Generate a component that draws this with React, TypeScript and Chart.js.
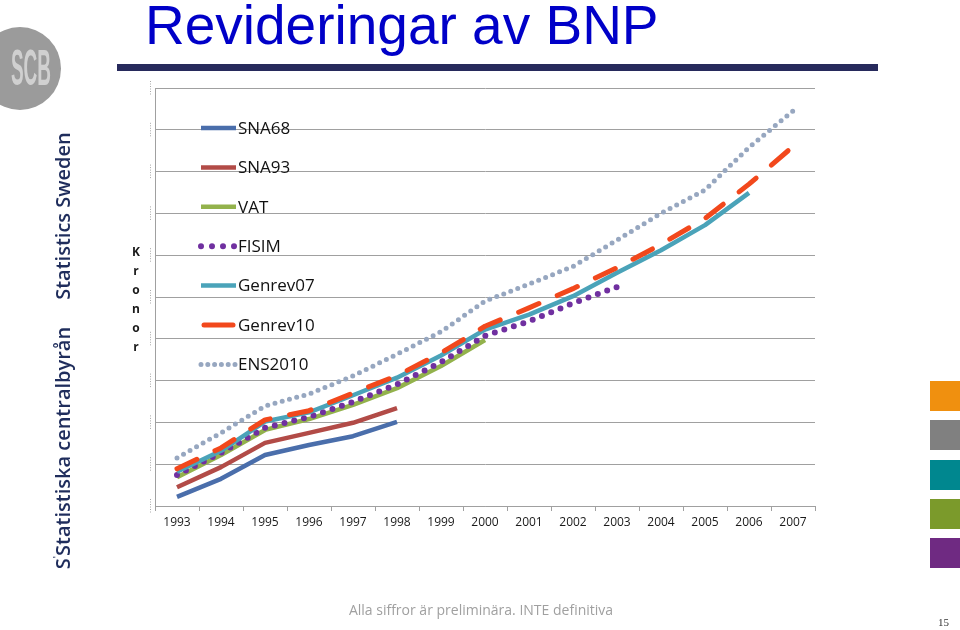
import React, { useEffect, useRef } from 'react';
import { Chart, registerables } from 'chart.js';

Chart.register(...registerables);

const years = ['1993', '1994', '1995', '1996', '1997', '1998', '1999', '2000', '2001', '2002', '2003', '2004', '2005', '2006', '2007'];
const sna68 = [0.22, 0.65, 1.22, 1.46, 1.67, 2.01, null, null, null, null, null, null, null, null, null];
const sna93 = [0.45, 0.93, 1.51, 1.75, 1.99, 2.34, null, null, null, null, null, null, null, null, null];
const vat = [0.69, 1.22, 1.82, 2.08, 2.42, 2.82, 3.35, 3.97, null, null, null, null, null, null, null];
const fisim = [0.74, 1.27, 1.87, 2.13, 2.49, 2.91, 3.44, 4.07, 4.42, 4.85, 5.24, null, null, null, null];
const genrev07 = [0.82, 1.32, 2.02, 2.24, 2.65, 3.07, 3.6, 4.22, 4.58, 5.02, 5.58, 6.12, 6.72, 7.49, null];
const genrev10 = [0.89, 1.39, 2.06, 2.28, 2.7, 3.12, 3.66, 4.3, 4.74, 5.2, 5.7, 6.26, 6.88, 7.7, 8.6];
const ens2010 = [1.15, 1.75, 2.39, 2.68, 3.11, 3.63, 4.17, 4.9, 5.31, 5.73, 6.36, 7.0, 7.56, 8.58, 9.45];
const seriesNames = ['SNA68', 'SNA93', 'VAT', 'FISIM', 'Genrev07', 'Genrev10', 'ENS2010'];
const yMin = 0;
const yMax = 10;
const yStep = 1;
const yTitleLetters = ['K', 'r', 'o', 'n', 'o', 'r'];
const sideSquares = ['#f0900f', '#808080', '#00878f', '#7b9a2b', '#6f2a82'];

const decorPlugin = {
  id: 'decor',
  afterDraw(chart: any) {
    const ctx = chart.ctx;
    const ys = chart.scales.y;
    const area = chart.chartArea;
    ctx.save();
    ctx.strokeStyle = '#a8a8a8';
    ctx.lineWidth = 1;
    ctx.setLineDash([1, 1.5]);
    ys.ticks.forEach((_t: any, i: number) => {
      const py = ys.getPixelForTick(i);
      ctx.beginPath();
      ctx.moveTo(area.left - 4.5, py - 7);
      ctx.lineTo(area.left - 4.5, py + 7);
      ctx.stroke();
    });
    ctx.restore();

    const lx0 = area.left + 46;
    const lx1 = area.left + 81;
    const ly0 = area.top + 40;
    const step = 39.4;
    chart.data.datasets.forEach((d: any, i: number) => {
      const y = ly0 + i * step;
      ctx.save();
      ctx.strokeStyle = d.borderColor;
      ctx.lineWidth = d.borderWidth;
      ctx.lineCap = d.borderCapStyle || 'butt';
      ctx.setLineDash(d.legendDash || []);
      ctx.beginPath();
      ctx.moveTo(lx0 + (d.legendInset || 0), y);
      ctx.lineTo(lx1 - (d.legendInset || 0), y);
      ctx.stroke();
      ctx.setLineDash([]);
      ctx.fillStyle = '#111111';
      ctx.font = '17px "Open Sans"';
      ctx.textBaseline = 'middle';
      ctx.fillText(d.label, lx1 + 2, y + 1);
      ctx.restore();
    });
  },
};

export default function App() {
  const ref = useRef<HTMLCanvasElement | null>(null);

  useEffect(() => {
    if (!ref.current) return;
    const mk = (i: number, data: any[], color: string, width: number, extra: any = {}) => ({
      label: seriesNames[i],
      data,
      borderColor: color,
      backgroundColor: color,
      borderWidth: width,
      pointRadius: 0,
      tension: 0,
      fill: false,
      spanGaps: false,
      borderCapStyle: 'butt',
      borderJoinStyle: 'round',
      order: 6 - i,
      ...extra,
    });
    const chart = new Chart(ref.current, {
      type: 'line',
      data: {
        labels: years,
        datasets: [
          mk(0, sna68, '#4a6eab', 4.5),
          mk(1, sna93, '#b24b47', 4.5),
          mk(2, vat, '#93b24c', 4.5),
          mk(3, fisim, '#7030a0', 6, { borderDash: [0, 10], borderCapStyle: 'round', legendDash: [0, 11] }),
          mk(4, genrev07, '#4aa3b9', 4.5),
          mk(5, genrev10, '#f2481c', 5, { borderDash: [22, 20], borderCapStyle: 'round', legendInset: 3 }),
          mk(6, ens2010, '#97a7c0', 5, { borderDash: [0, 7.5], borderCapStyle: 'round', legendDash: [0, 6.8] }),
        ],
      },
      options: {
        responsive: false,
        animation: false,
        events: [],
        layout: { padding: { left: 155, right: 145, top: 88, bottom: 84 } },
        plugins: { legend: { display: false }, tooltip: { enabled: false }, title: { display: false } },
        scales: {
          x: {
            type: 'category',
            offset: true,
            grid: { display: true, drawOnChartArea: false, drawTicks: true, tickLength: 5, offset: true, color: '#a0a0a0' },
            border: { display: true, color: '#a0a0a0', width: 1 },
            ticks: { color: '#1a1a1a', font: { family: '"Open Sans"', size: 12 }, padding: 4, maxRotation: 0, autoSkip: false },
            afterFit: (s: any) => { s.height = 40; },
          },
          y: {
            min: yMin,
            max: yMax,
            ticks: { stepSize: yStep, display: false },
            grid: { color: '#a0a0a0', lineWidth: 1, drawTicks: false },
            border: { display: true, color: '#a0a0a0', width: 1 },
            afterFit: (s: any) => { s.width = 0; },
          },
        },
      },
      plugins: [decorPlugin],
    } as any);
    return () => chart.destroy();
  }, []);

  const abs = (o: any) => ({ position: 'absolute', ...o });

  return (
    <div style={{ position: 'absolute', left: 0, top: 0, width: 960, height: 630, overflow: 'hidden', background: '#ffffff' }}>
      <canvas ref={ref} width={960} height={630} style={abs({ left: 0, top: 0, width: 960, height: 630 })} />
      {/* logo */}
      <div style={abs({ left: -21, top: 27, width: 82, height: 83, borderRadius: '50%', background: '#9b9b9b' })} />
      <div style={abs({ left: -40, top: 38, width: 142, height: 60, textAlign: 'center', fontFamily: '"Liberation Sans"', fontWeight: 700, fontSize: 50, lineHeight: '60px', color: '#d0d0d0', transform: 'scaleX(0.38)', whiteSpace: 'nowrap' })}>SCB</div>
      {/* title */}
      <div style={abs({ left: 145, top: -2, fontFamily: '"Liberation Sans"', fontSize: 55, lineHeight: '55px', color: '#0000c8', whiteSpace: 'nowrap' })}>Revideringar av BNP</div>
      <div style={abs({ left: 117, top: 64, width: 761, height: 7, background: '#272a5c' })} />
      {/* vertical side texts */}
      <div style={abs({ left: 62, top: 216, transform: 'translate(-50%, -50%) rotate(-90deg)', fontFamily: '"Open Sans"', fontWeight: 600, fontSize: 20, color: '#1f2d5c', whiteSpace: 'nowrap' })}>Statistics Sweden</div>
      <div style={abs({ left: 62, top: 448, transform: 'translate(-50%, -50%) rotate(-90deg)', fontFamily: '"Open Sans"', fontWeight: 600, fontSize: 20, color: '#1f2d5c', whiteSpace: 'nowrap' })}>
        <span>S</span><span style={{ fontSize: 9, verticalAlign: 'top' }}>'</span><span>Statistiska centralbyrån</span>
      </div>
      {/* y title */}
      <div style={abs({ left: 129, top: 242, width: 14, textAlign: 'center', fontFamily: '"Open Sans"', fontWeight: 700, fontSize: 12, lineHeight: '19px', color: '#1a1a1a' })}>
        {yTitleLetters.map((c, i) => <div key={i}>{c}</div>)}
      </div>
      {/* side squares */}
      {sideSquares.map((c, i) => (
        <div key={i} style={abs({ left: 930, top: 381 + i * 39.3, width: 30, height: 30, background: c })} />
      ))}
      {/* footer */}
      <div style={abs({ left: 0, top: 600, width: 962, textAlign: 'center', fontFamily: '"Open Sans"', fontSize: 14, color: '#a0a0a0' })}>Alla siffror är preliminära. INTE definitiva</div>
      <div style={abs({ left: 938, top: 616, fontFamily: '"Liberation Serif"', fontSize: 11, color: '#333' })}>15</div>
    </div>
  );
}
